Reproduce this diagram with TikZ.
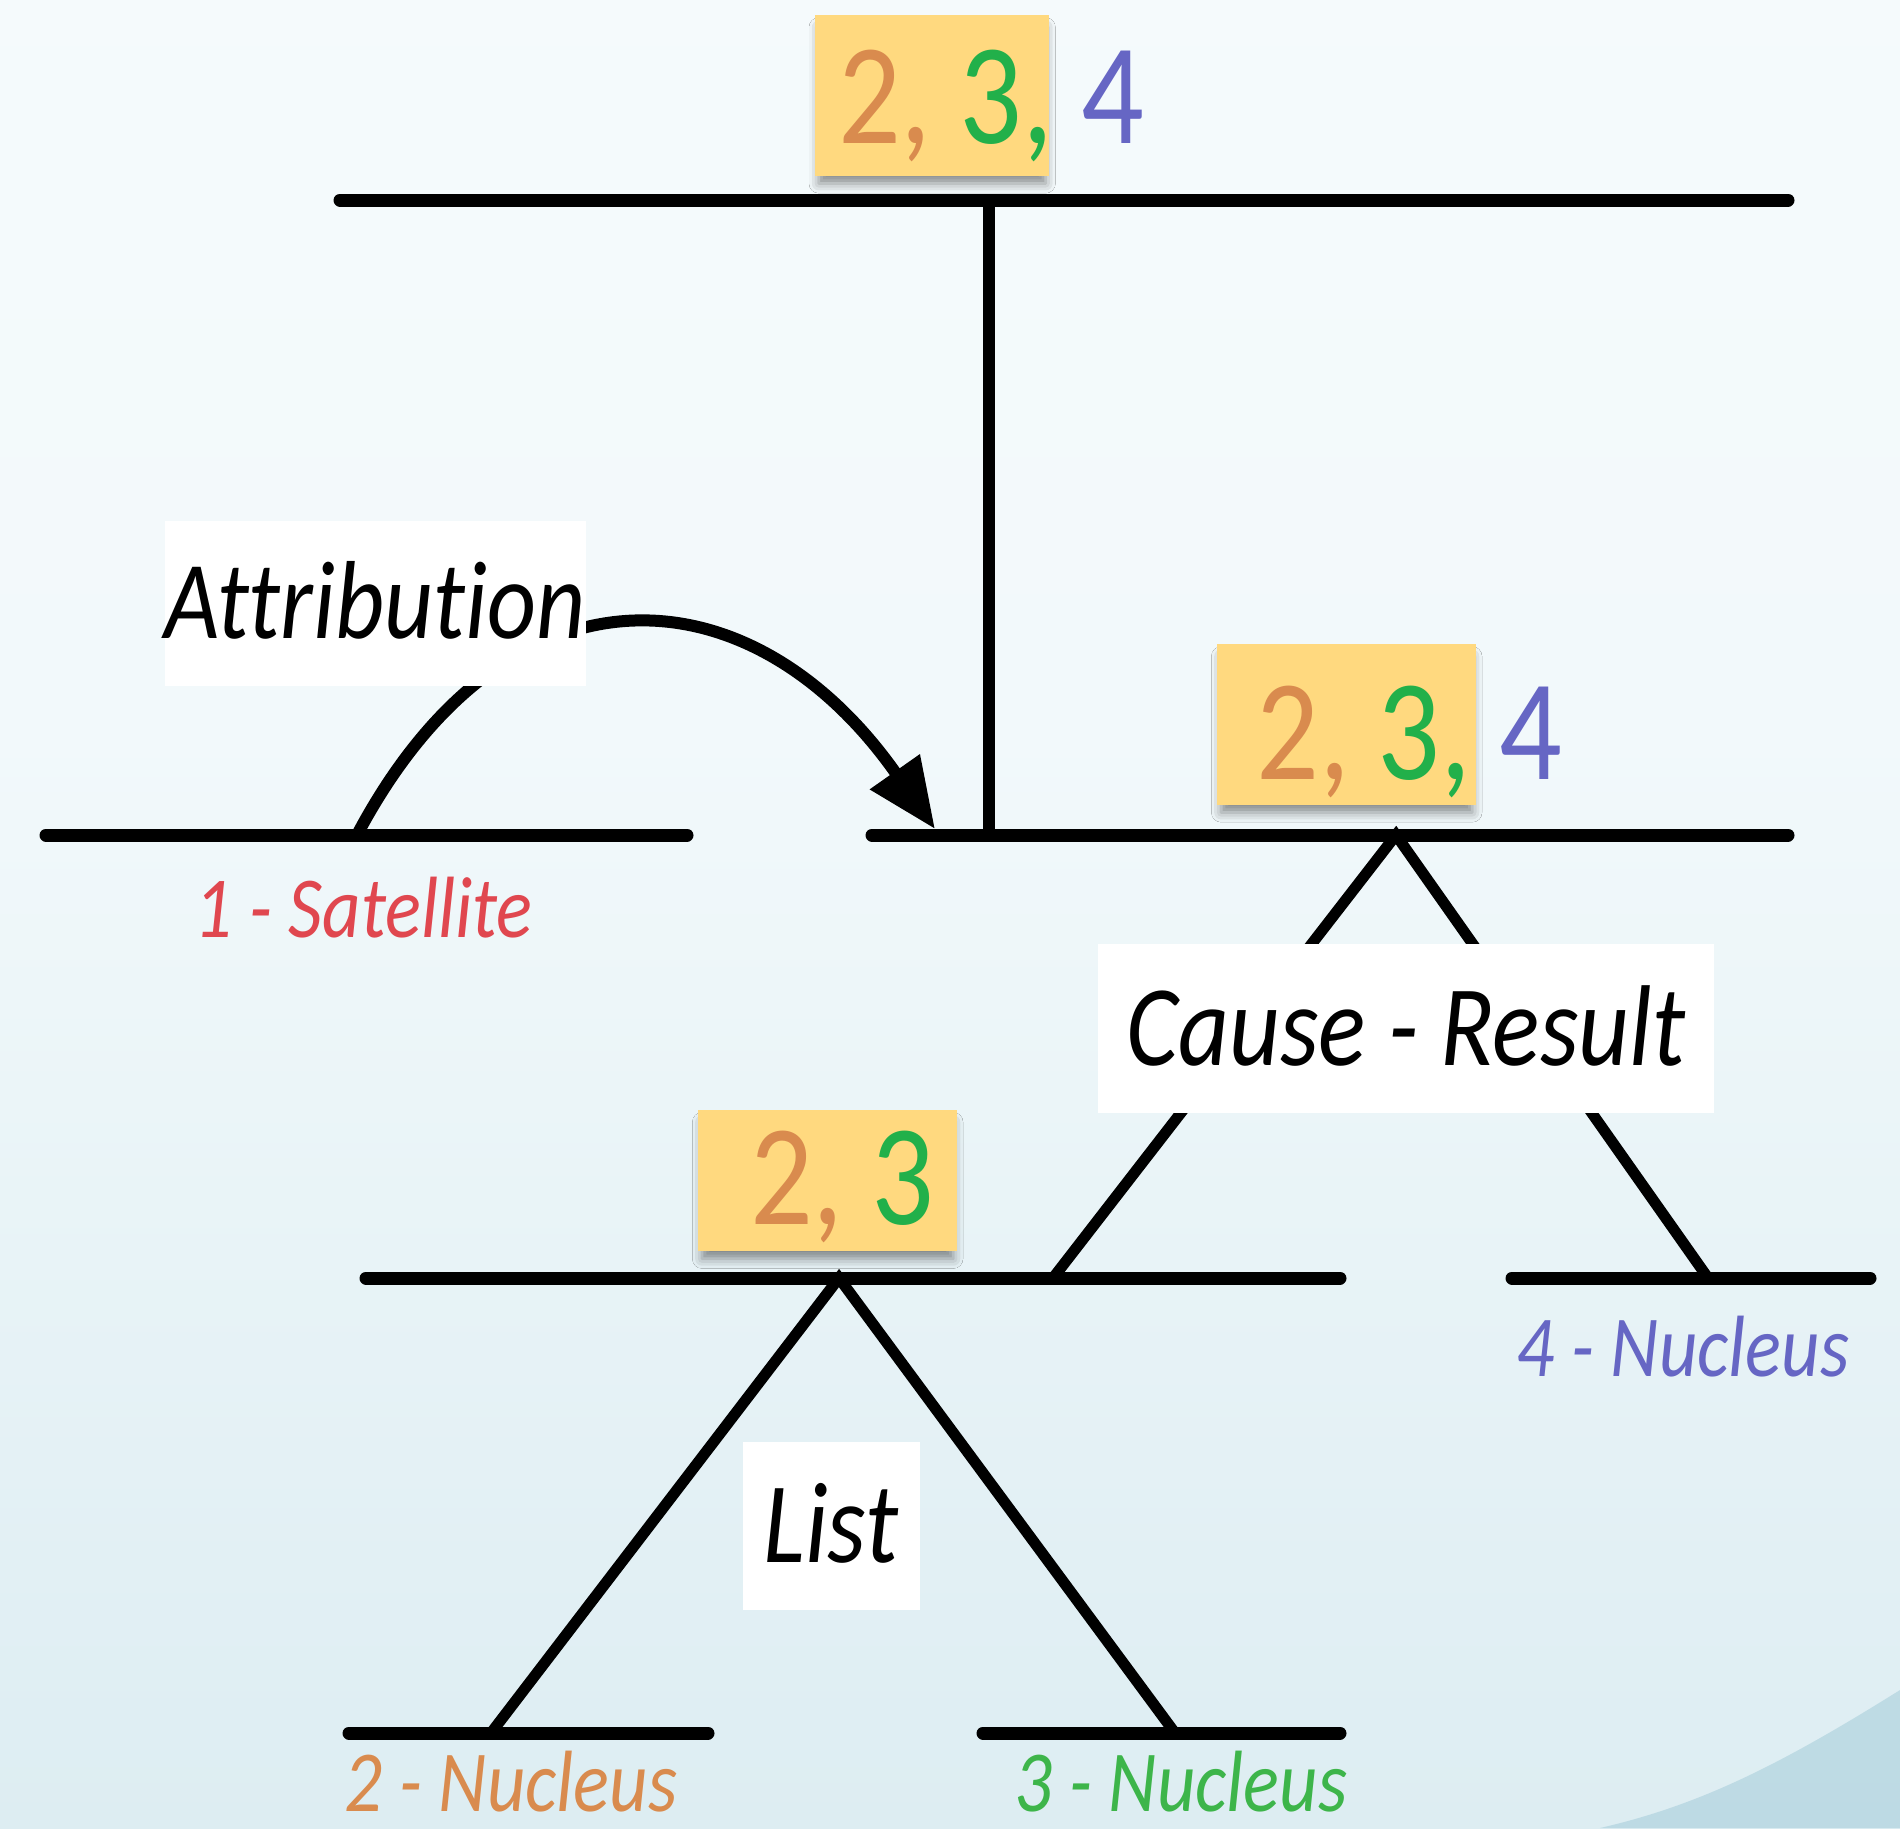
\documentclass[tikz,border=0pt]{standalone}
\usepackage{fontspec}
\setmainfont{Carlito}
\newfontfamily\gs[FakeStretch=0.86,Ligatures=NoCommon]{Carlito}
\usetikzlibrary{arrows.meta,shadows.blur}
\definecolor{orN}{HTML}{D98B4E}
\definecolor{grN}{HTML}{22B04A}
\definecolor{grL}{HTML}{3DB54A}
\definecolor{blN}{HTML}{6666C4}
\definecolor{rdN}{HTML}{E0474F}
\definecolor{ybox}{HTML}{FFD97F}
\definecolor{bgtop}{HTML}{F8FCFD}
\definecolor{bgtopb}{HTML}{F2F9FB}
\definecolor{bgmid}{HTML}{DDEDF2}
\definecolor{bgbot}{HTML}{C3DDE6}
\definecolor{swoosh}{HTML}{8EBFCF}
\pgfdeclareverticalshading{bgsh}{100bp}{color(0bp)=(bgbot); color(25bp)=(bgmid); color(55bp)=(bgtopb); color(100bp)=(bgtop)}
\tikzset{
  hline/.style={line width=13pt, line cap=round},
  leg/.style={line width=11pt},
  numbox/.style={fill=ybox, inner sep=0pt, anchor=north west,
    blur shadow={shadow xshift=0pt, shadow yshift=-10pt, shadow scale=0.97, shadow blur radius=10pt, shadow opacity=45}},
  nums/.style={anchor=base west, inner sep=0pt, font=\gs\fontsize{144}{160}\selectfont},
  rel/.style={fill=white, inner sep=0pt, anchor=base, text depth=48pt,
    font=\gs\itshape\fontsize{115}{130}\selectfont},
  lbl/.style={anchor=base west, inner sep=0pt, text depth=0pt, font=\gs\itshape\fontsize{87}{100}\selectfont},
}
\begin{document}
\begin{tikzpicture}[x=1pt,y=-1pt]
\useasboundingbox (0,0) rectangle (1900,1828);
\shade[shading=bgsh] (0,0) rectangle (1900,1828);
\fill[swoosh, opacity=0.4] (1900,1690) .. controls (1780,1765) and (1700,1805) .. (1600,1828) -- (1900,1828) -- cycle;
% coordinates
\coordinate (t1) at (340,200);
\coordinate (t2) at (1788,200);
\coordinate (tv) at (989,200);
\coordinate (mv) at (989,835);
\coordinate (m1) at (872,835);
\coordinate (m2) at (1788,835);
\coordinate (s1) at (46,835);
\coordinate (s2) at (687,835);
\coordinate (sa) at (357,835);
\coordinate (tip) at (935,829);
\coordinate (ca) at (1396,835);
\coordinate (cl) at (1053,1278);
\coordinate (cr) at (1708,1278);
\coordinate (l1) at (366,1278);
\coordinate (l2) at (1340,1278);
\coordinate (f1) at (1512,1278);
\coordinate (f2) at (1870,1278);
\coordinate (la) at (839,1278);
\coordinate (ll) at (491,1733);
\coordinate (lr) at (1175,1733);
\coordinate (b1) at (349,1733);
\coordinate (b2) at (708,1733);
\coordinate (c1) at (983,1733);
\coordinate (c2) at (1340,1733);
% lines
\draw[hline] (t1) -- (t2);
\draw[line width=12pt] (tv) -- (mv);
\draw[hline] (m1) -- (m2);
\draw[hline] (s1) -- (s2);
\draw[hline] (l1) -- (l2);
\draw[hline] (f1) -- (f2);
\draw[hline] (b1) -- (b2);
\draw[hline] (c1) -- (c2);
\draw[leg, line join=miter] (cl) -- (ca) -- (cr);
\draw[leg, line join=miter] (ll) -- (la) -- (lr);
\draw[line width=12pt, -{Triangle[length=70pt,width=58pt]}] (sa) .. controls (507,552) and (751,567) .. (tip);
% relation labels
\node[rel, minimum width=421pt, text height=117pt, font=\gs\itshape\fontsize{111}{130}\selectfont] (attr) at (375,638) {Attribution};
\node[rel, minimum width=616pt, text height=121pt] (cause) at (1406,1065) {Cause - Result};
\node[rel, minimum width=177pt, text height=120pt] (list) at (831,1562) {List};
% number boxes
\node[numbox, minimum width=234pt, minimum height=161pt] (yb1) at (815,15) {};
\node[numbox, minimum width=259pt, minimum height=161pt] (yb2) at (1217,644) {};
\node[numbox, minimum width=259pt, minimum height=141pt] (yb3) at (698,1110) {};
\node[nums] (n1) at (838,143) {\textcolor{orN}{2,} \textcolor{grN}{3,} \textcolor{blN}{4}};
\node[nums] (n2) at (1256,779) {\textcolor{orN}{2,} \textcolor{grN}{3,} \textcolor{blN}{4}};
\node[nums] (n3) at (750,1224) {\textcolor{orN}{2,} \textcolor{grN}{3}};
% leaf labels
\node[lbl, text=rdN] (sat) at (194,937) {1 - Satellite};
\node[lbl, text=blN] (nuc4) at (1516,1376) {4 - Nucleus};
\node[lbl, text=orN] (nuc2) at (344,1811) {2 - Nucleus};
\node[lbl, text=grL] (nuc3) at (1014,1811) {3 - Nucleus};
\end{tikzpicture}
\end{document}
